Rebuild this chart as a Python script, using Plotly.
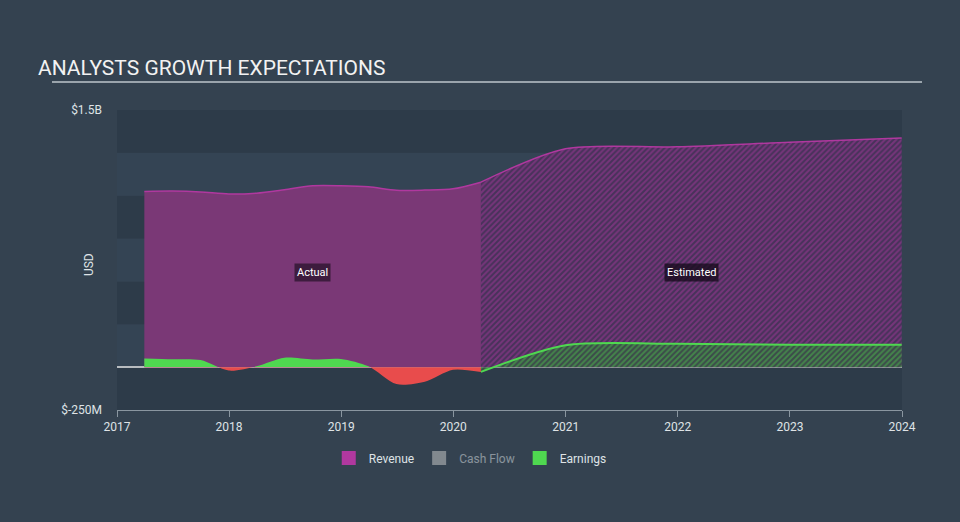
import plotly.graph_objects as go

# values in millions of USD
actual_dates = [
    "2017-03-31", "2017-06-30", "2017-09-30", "2017-12-31",
    "2018-03-31", "2018-06-30", "2018-09-30", "2018-12-31",
    "2019-03-31", "2019-06-30", "2019-09-30", "2019-12-31",
    "2020-03-31",
]
actual_revenue = [1025, 1027, 1022, 1010, 1015, 1035, 1058, 1058, 1052, 1032, 1033, 1040, 1079]
actual_earnings = [51, 46, 41, -20, 5, 55, 45, 48, 5, -99, -85, -15, -28]

estimate_dates = ["2020-03-31", "2020-12-31", "2021-12-31", "2022-12-31", "2023-12-31"]
estimate_revenue = [1079, 1274, 1285, 1312, 1336]
estimate_earnings = [-28, 128, 136, 130, 130]

year_ticks = ["2017", "2018", "2019", "2020", "2021", "2022", "2023", "2024"]
y_ticks = [-250, 1500]
y_tick_text = ["$-250M", "$1.5B"]

BG = "#344250"
BAND_DARK = "#2d3b49"
BAND_LIGHT = "#344454"
MAGENTA = "#b0389f"
GREEN = "#4fd850"
RED = "#e84c4c"
TEXT = "#dfe3e6"

fig = go.Figure()

# revenue, actual
fig.add_trace(
    go.Scatter(
        x=actual_dates,
        y=actual_revenue,
        mode="lines",
        line={"color": MAGENTA, "width": 1.5, "shape": "spline", "smoothing": 0.8},
        fill="tozeroy",
        fillcolor="#7a3876",
        showlegend=False,
        hoverinfo="skip",
    )
)

# revenue, estimated (hatched)
fig.add_trace(
    go.Scatter(
        x=estimate_dates,
        y=estimate_revenue,
        mode="lines",
        line={"color": MAGENTA, "width": 1.5, "shape": "spline", "smoothing": 0.8},
        fill="tozeroy",
        fillpattern={
            "shape": "/",
            "fgcolor": "#a6389b",
            "bgcolor": "#47325a",
            "size": 4,
            "solidity": 0.5,
        },
        showlegend=False,
        hoverinfo="skip",
    )
)

# earnings, actual (green above zero, red below)
fig.add_trace(
    go.Scatter(
        x=actual_dates,
        y=actual_earnings,
        mode="lines",
        line={"color": "rgba(0,0,0,0)", "width": 0, "shape": "spline", "smoothing": 0.8},
        fill="tozeroy",
        fillgradient={
            "type": "vertical",
            "start": -0.5,
            "stop": 0.5,
            "colorscale": [[0, RED], [0.5, RED], [0.5, GREEN], [1, GREEN]],
        },
        showlegend=False,
        hoverinfo="skip",
    )
)

# earnings, estimated (hatched)
fig.add_trace(
    go.Scatter(
        x=estimate_dates,
        y=estimate_earnings,
        mode="lines",
        line={"color": GREEN, "width": 2, "shape": "spline", "smoothing": 0.8},
        fill="tozeroy",
        fillpattern={
            "shape": "/",
            "fgcolor": "#4cc04c",
            "bgcolor": "#3c4a4a",
            "size": 4,
            "solidity": 0.5,
        },
        showlegend=False,
        hoverinfo="skip",
    )
)

# legend entries
for name, color, visible in [
    ("Revenue", MAGENTA, True),
    ("Cash Flow", "#cfcfcf", "legendonly"),
    ("Earnings", GREEN, True),
]:
    fig.add_trace(
        go.Scatter(
            x=[None],
            y=[None],
            mode="markers",
            name=name,
            marker={"symbol": "square", "size": 14, "color": color},
            visible=visible,
        )
    )

# horizontal bands every 250M
shapes = []
for i, lo in enumerate(range(-250, 1500, 250)):
    shapes.append(
        {
            "type": "rect",
            "xref": "paper",
            "yref": "y",
            "x0": 0,
            "x1": 1,
            "y0": lo,
            "y1": lo + 250,
            "fillcolor": BAND_DARK if i % 2 == 0 else BAND_LIGHT,
            "line": {"width": 0},
            "layer": "below",
        }
    )
# title underline
shapes.append(
    {
        "type": "line",
        "xref": "paper",
        "yref": "paper",
        "x0": -0.0828,
        "x1": 1.0255,
        "y0": 1.093,
        "y1": 1.093,
        "line": {"color": "#9aa4ac", "width": 2},
    }
)

fig.update_layout(
    width=960,
    height=522,
    paper_bgcolor=BG,
    plot_bgcolor=BG,
    margin={"l": 117, "r": 58, "t": 110, "b": 112},
    font={"family": "Roboto, sans-serif", "color": TEXT, "size": 12},
    shapes=shapes,
    title={
        "text": "ANALYSTS GROWTH EXPECTATIONS",
        "x": 38 / 960,
        "xanchor": "left",
        "y": 0.87,
        "yanchor": "middle",
        "font": {"size": 21, "color": "#f2f2f2"},
    },
    legend={
        "orientation": "h",
        "x": 0.45,
        "xanchor": "center",
        "y": -0.16,
        "yanchor": "middle",
        "font": {"size": 12, "color": TEXT},
        "itemwidth": 30,
        "tracegroupgap": 0,
        "itemclick": False,
        "itemdoubleclick": False,
    },
    annotations=[
        {
            "x": "2018-09-28",
            "y": 555,
            "text": "Actual",
            "showarrow": False,
            "bgcolor": "rgba(20,10,25,0.6)",
            "font": {"size": 11, "color": "#ffffff"},
            "borderpad": 2,
        },
        {
            "x": "2022-02-15",
            "y": 555,
            "text": "Estimated",
            "showarrow": False,
            "bgcolor": "rgba(20,10,25,0.75)",
            "font": {"size": 11, "color": "#ffffff"},
            "borderpad": 2,
        },
        {
            "x": (80 - 117) / 785,
            "y": 0.483,
            "xref": "paper",
            "yref": "paper",
            "text": "USD",
            "textangle": -90,
            "showarrow": False,
            "font": {"size": 12, "color": TEXT},
        },
    ],
)

fig.update_xaxes(
    type="date",
    range=["2017-01-01", "2024-01-01"],
    tickvals=[f"{y}-01-01" for y in year_ticks],
    ticktext=year_ticks,
    showgrid=False,
    zeroline=False,
    showline=True,
    linecolor="#8a96a0",
    linewidth=1,
    ticks="outside",
    ticklen=6,
    tickcolor="#8a96a0",
    tickfont={"size": 12, "color": TEXT},
)

fig.update_yaxes(
    range=[-250, 1500],
    tickvals=y_ticks,
    ticktext=y_tick_text,
    showgrid=False,
    zeroline=True,
    zerolinecolor="#b8bcc0",
    zerolinewidth=1.5,
    showline=False,
    ticks="",
    ticklabelstandoff=14,
    tickfont={"size": 12, "color": TEXT},
)

fig.write_html(
    "out.html",
    config={"displayModeBar": False},
    post_script="document.body.style.margin='0';",
)
